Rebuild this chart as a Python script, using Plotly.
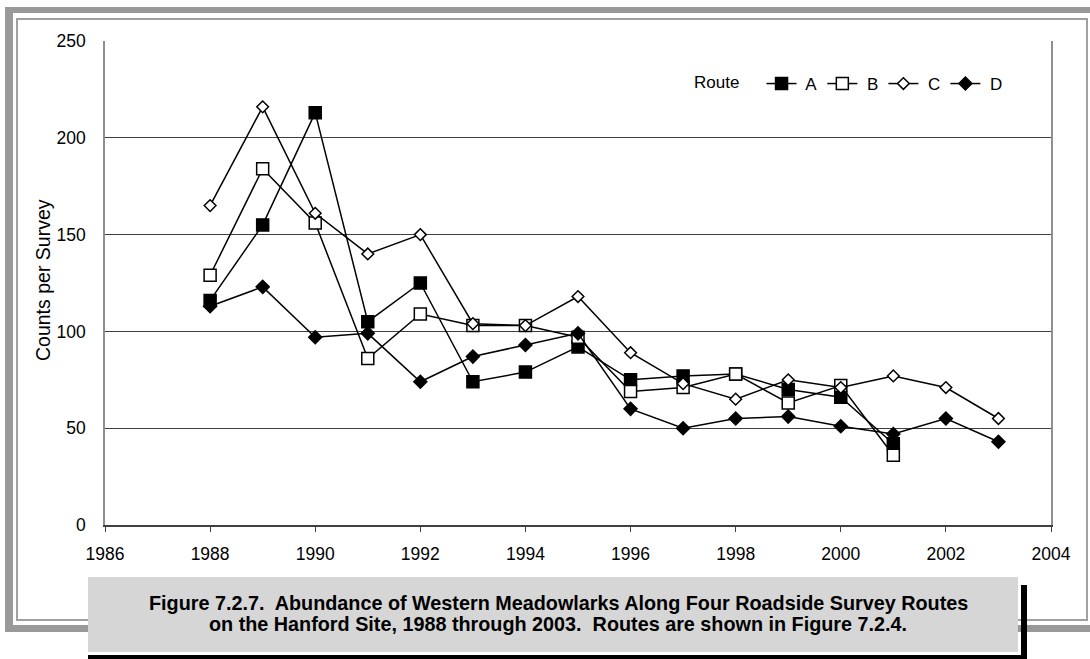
import plotly.graph_objects as go

years = list(range(1988, 2004))
route_a = [116, 155, 213, 105, 125, 74, 79, 92, 75, 77, 78, 70, 66, 42, None, None]
route_b = [129, 184, 156, 86, 109, 103, 103, 97, 69, 71, 78, 63, 72, 36, None, None]
route_c = [165, 216, 161, 140, 150, 104, 103, 118, 89, 73, 65, 75, 71, 77, 71, 55]
route_d = [113, 123, 97, 99, 74, 87, 93, 99, 60, 50, 55, 56, 51, 47, 55, 43]
x_ticks = list(range(1986, 2005, 2))
y_ticks = list(range(0, 251, 50))
caption_1 = "Figure 7.2.7.  Abundance of Western Meadowlarks Along Four Roadside Survey Routes"
caption_2 = "on the Hanford Site, 1988 through 2003.  Routes are shown in Figure 7.2.4."

W, H = 1090, 659
ML, MR, MT, MB = 105, 39, 41, 134
PW, PH = W - ML - MR, H - MT - MB


def px(x):
    return (x - ML) / PW


def py(y):
    return (H - MB - y) / PH


fig = go.Figure()
styles = [
    (" A", route_a, "square", "black", 12),
    (" B", route_b, "square", "white", 12),
    (" C", route_c, "diamond", "white", 9),
    (" D", route_d, "diamond", "black", 10),
]
for name, vals, sym, fill, size in styles:
    fig.add_trace(go.Scatter(
        x=years, y=vals, name=name, mode="lines+markers",
        line=dict(color="black", width=1.5),
        marker=dict(symbol=sym, size=size, color=fill,
                    line=dict(color="black", width=1.5)),
        connectgaps=False,
    ))

shapes = []
gray = "#999999"
shapes.append(dict(type="rect", xref="paper", yref="paper",
                   x0=px(5), x1=px(13), y0=py(632), y1=py(7),
                   fillcolor=gray, line=dict(width=0), layer="below"))
shapes.append(dict(type="rect", xref="paper", yref="paper",
                   x0=px(5), x1=px(1092), y0=py(13), y1=py(7),
                   fillcolor=gray, line=dict(width=0), layer="below"))
shapes.append(dict(type="rect", xref="paper", yref="paper",
                   x0=px(5), x1=px(1092), y0=py(632), y1=py(625),
                   fillcolor=gray, line=dict(width=0), layer="below"))
shapes.append(dict(type="rect", xref="paper", yref="paper",
                   x0=px(17), x1=px(1087), y0=py(620), y1=py(19),
                   fillcolor="rgba(0,0,0,0)", line=dict(width=2, color="#a0a0a0"),
                   layer="below"))
shapes.append(dict(type="rect", xref="paper", yref="paper",
                   x0=px(88), x1=px(1018), y0=py(652), y1=py(577),
                   fillcolor="#d6d6d6", line=dict(width=0)))
shapes.append(dict(type="rect", xref="paper", yref="paper",
                   x0=px(1021), x1=px(1027), y0=py(662), y1=py(585),
                   fillcolor="black", line=dict(width=0)))
shapes.append(dict(type="rect", xref="paper", yref="paper",
                   x0=px(88), x1=px(1027), y0=py(662), y1=py(655),
                   fillcolor="black", line=dict(width=0)))

cap_font = dict(family="Liberation Sans, Arial", size=19.8, color="black")
fig.update_layout(
    width=W, height=H,
    margin=dict(l=ML, r=MR, t=MT, b=MB, pad=0),
    paper_bgcolor="white", plot_bgcolor="white",
    font=dict(family="Liberation Sans, Arial, sans-serif", size=17.5, color="black"),
    showlegend=True,
    legend=dict(
        orientation="h", x=px(692), y=py(66), xanchor="left", yanchor="top",
        title=dict(text="Route   ", side="left", font=dict(size=17)),
        font=dict(size=17), bgcolor="rgba(0,0,0,0)", itemwidth=30,
    ),
    shapes=shapes,
    annotations=[
        dict(text="Counts per Survey", textangle=-90, xref="paper", yref="paper",
             x=px(43), y=py(280), showarrow=False, font=dict(size=19.5),
             xanchor="center", yanchor="middle"),
        dict(text="<b>" + caption_1 + "</b>",
             xref="paper", yref="paper", x=px(558), y=py(603), showarrow=False,
             xanchor="center", yanchor="middle", font=cap_font),
        dict(text="<b>" + caption_2 + "</b>",
             xref="paper", yref="paper", x=px(558), y=py(624), showarrow=False,
             xanchor="center", yanchor="middle", font=cap_font),
    ],
)
fig.update_xaxes(
    range=[1986, 2004], tickvals=x_ticks, ticktext=[str(v) for v in x_ticks],
    showgrid=False, zeroline=False, showline=True, linecolor="#404040", linewidth=2,
    ticks="outside", ticklen=5, tickcolor="#404040", tickwidth=1,
    ticklabelstandoff=7,
)
fig.update_yaxes(
    range=[0, 250], tickvals=y_ticks, ticktext=[str(v) for v in y_ticks],
    showgrid=True, gridcolor="#404040", gridwidth=1, zeroline=False,
    showline=True, linecolor="#909090", linewidth=1.5, mirror=True,
    ticks="", ticklabelstandoff=14,
)
fig.write_html("out.html", config={"displayModeBar": False},
               post_script="document.body.style.margin='0';document.body.style.overflow='hidden';")
